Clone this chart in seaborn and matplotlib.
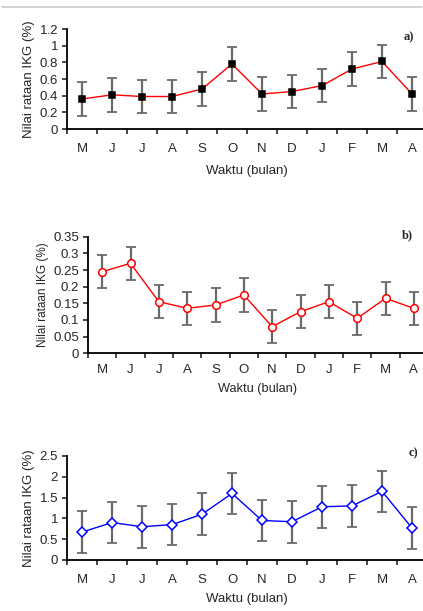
import numpy as np
import pandas as pd
import matplotlib
matplotlib.use("Agg")
import matplotlib.pyplot as plt
import seaborn as sns
from matplotlib.lines import Line2D

sns.set_style("ticks")
plt.rcParams["font.family"] = ["Liberation Sans", "DejaVu Sans"]

# ----------------------------
# Data
# ----------------------------
months = ["M", "J", "J", "A", "S", "O", "N", "D", "J", "F", "M", "A"]

ikg_a = [0.36, 0.41, 0.39, 0.39, 0.48, 0.78, 0.42, 0.45, 0.52, 0.72, 0.81, 0.42]
err_a = [0.20, 0.20, 0.20, 0.20, 0.20, 0.20, 0.20, 0.20, 0.20, 0.20, 0.20, 0.20]

ikg_b = [0.245, 0.27, 0.155, 0.135, 0.145, 0.175, 0.08, 0.125, 0.155, 0.105, 0.165, 0.135]
err_b = [0.05, 0.05, 0.05, 0.05, 0.05, 0.05, 0.05, 0.05, 0.05, 0.05, 0.05, 0.05]

ikg_c = [0.67, 0.90, 0.80, 0.85, 1.10, 1.60, 0.95, 0.92, 1.28, 1.30, 1.65, 0.77]
err_c = [0.50, 0.50, 0.50, 0.50, 0.50, 0.50, 0.50, 0.50, 0.50, 0.50, 0.50, 0.50]

fig = plt.figure(figsize=(4.23, 6.11), dpi=100)

# thin grey rule at the top
fig.add_artist(Line2D([0.005, 0.998], [1 - 7 / 611, 1 - 7 / 611],
                      transform=fig.transFigure, color="#cccccc", lw=1.2))


def panel(rect, vals, errs, ymax, ystep, marker, msize, mcolor, mface, lcolor,
          letter, letter_xy, fs, lab_fs, xl_fs, xpad, xlabpad):
    ax = fig.add_axes(rect)
    df = pd.DataFrame({"pos": np.arange(len(vals)), "val": vals})
    ax.errorbar(df["pos"], df["val"], yerr=errs, fmt="none",
                ecolor="#6a6a6a", elinewidth=1.6, capsize=3.5, capthick=1.3,
                zorder=2)
    sns.lineplot(data=df, x="pos", y="val", ax=ax, color=lcolor, lw=1.0,
                 marker=marker, markersize=msize,
                 markerfacecolor=mface, markeredgecolor=mcolor,
                 markeredgewidth=1.1, zorder=3)
    yt = np.round(np.arange(0, ymax + ystep / 2, ystep), 3)
    ax.set_xlim(-0.5, len(vals) - 0.5)
    ax.set_ylim(0, ymax)
    ax.set_yticks(yt)
    ax.set_yticklabels([f"{v:g}" for v in yt], fontsize=fs)
    ax.set_xticks(np.arange(len(vals)))
    ax.set_xticklabels(months, fontsize=fs)
    ax.set_xticks(np.arange(-0.5, len(vals), 1.0), minor=True)
    ax.tick_params(axis="x", which="major", length=0, pad=xpad)
    ax.tick_params(axis="x", which="minor", length=3.5, width=1.2, direction="out")
    ax.tick_params(axis="y", length=3.5, width=1.2, direction="out", pad=3)
    for s in ["top", "right"]:
        ax.spines[s].set_visible(False)
    for s in ["left", "bottom"]:
        ax.spines[s].set_linewidth(1.3)
        ax.spines[s].set_color("black")
    ax.set_xlabel("Waktu (bulan)", fontsize=xl_fs, labelpad=xlabpad)
    ax.set_ylabel("Nilai rataan IKG (%)", fontsize=lab_fs, labelpad=3)
    fig.text(letter_xy[0] / 423, 1 - letter_xy[1] / 611, letter,
             family="Liberation Serif", weight="bold", fontsize=9,
             ha="center", va="center")
    return ax


panel([67 / 423, (611 - 129) / 611, 360 / 423, 100 / 611],
      ikg_a, err_a, 1.2, 0.2, "s", 5, "black", "black", "red",
      "a)", (409, 37), 9.5, 9.5, 9.5, 10, 7)

panel([88 / 423, (611 - 353.3) / 611, 340 / 423, 116.6 / 611],
      ikg_b, err_b, 0.35, 0.05, "o", 5.5, "red", "white", "red",
      "b)", (407, 235), 9.5, 8.5, 9.2, 8, 5)

panel([67 / 423, (611 - 560) / 611, 360 / 423, 104 / 611],
      ikg_c, err_c, 2.5, 0.5, "D", 5, "blue", "white", "blue",
      "c)", (413, 453), 9.5, 9.5, 9.5, 10, 5)

plt.savefig("out.png", dpi=100)
plt.close()
